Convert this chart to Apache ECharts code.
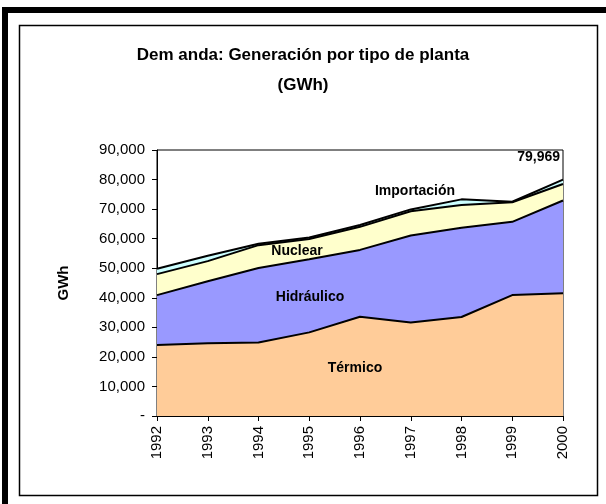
<!DOCTYPE html>
<html>
<head>
<meta charset="utf-8">
<script src="https://cdn.jsdelivr.net/npm/echarts@6/dist/echarts.min.js"></script>
<style>
  html, body { margin: 0; padding: 0; background: #fff; }
  #chart { width: 606px; height: 504px; }
</style>
</head>
<body>
<div id="chart"></div>
<script>
const years = ['1992', '1993', '1994', '1995', '1996', '1997', '1998', '1999', '2000'];
const termico = [24000, 24600, 24900, 28300, 33600, 31600, 33500, 40900, 41500];
const hidraulico = [16900, 21000, 25200, 24700, 22600, 29500, 30200, 24800, 31400];
const nuclear = [7100, 6800, 7700, 6900, 7800, 8200, 7700, 6600, 5600];
const importacion = [1800, 1800, 500, 500, 600, 600, 1900, 200, 1469];
const yTicks = [0, 10000, 20000, 30000, 40000, 50000, 60000, 70000, 80000, 90000];

const font = '"Liberation Sans", Arial, sans-serif';

const chart = echarts.init(document.getElementById('chart'));

const areaSeries = (name, data, color) => ({
  name,
  type: 'line',
  stack: 'total',
  data,
  symbol: 'none',
  lineStyle: { color: '#000', width: 2 },
  areaStyle: { color, opacity: 1 }
});

const label = (text, x, y, align) => ({
  type: 'text', z: 100, x, y,
  style: { text, font: 'bold 14px ' + font, fill: '#000', align: align || 'center', verticalAlign: 'middle' }
});

chart.setOption({
  backgroundColor: '#fff',
  animation: false,
  textStyle: { fontFamily: font },
  title: {
    text: 'Dem anda: Generación por tipo de planta\n(GWh)',
    left: 'center',
    top: 35,
    textStyle: { fontSize: 17, fontWeight: 'bold', color: '#000', lineHeight: 30, fontFamily: font }
  },
  grid: {
    left: 157, right: 43, top: 150, bottom: 88,
    show: true, borderColor: '#000', borderWidth: 1, backgroundColor: 'transparent'
  },
  xAxis: {
    type: 'category',
    data: years,
    boundaryGap: false,
    axisLine: { lineStyle: { color: '#000', width: 1 } },
    axisTick: { show: true, length: 5, lineStyle: { color: '#000' } },
    axisLabel: { rotate: 90, margin: 10, fontSize: 15, color: '#000', fontFamily: font }
  },
  yAxis: {
    type: 'value',
    min: 0, max: 90000, interval: 10000,
    name: 'GWh',
    nameLocation: 'middle',
    nameGap: 86,
    nameTextStyle: { fontSize: 15, fontWeight: 'bold', color: '#000', fontFamily: font },
    axisLine: { show: true, lineStyle: { color: '#000', width: 1 } },
    axisTick: { show: true, length: 5, lineStyle: { color: '#000' } },
    splitLine: { show: false },
    axisLabel: {
      margin: 12, fontSize: 15, color: '#000', fontFamily: font,
      formatter: v => yTicks.indexOf(v) === 0 ? '-' : v.toLocaleString('en-US')
    }
  },
  series: [
    areaSeries('Térmico', termico, '#FFCC99'),
    areaSeries('Hidráulico', hidraulico, '#9999FF'),
    areaSeries('Nuclear', nuclear, '#FFFFCC'),
    areaSeries('Importación', importacion, '#CCFFFF')
  ],
  graphic: [
    { type: 'rect', z: -10, shape: { x: 5, y: 10, width: 610, height: 500 }, style: { fill: 'none', stroke: '#000', lineWidth: 6 } },
    { type: 'rect', z: -10, shape: { x: 19.5, y: 25.5, width: 578, height: 470 }, style: { fill: 'none', stroke: '#000', lineWidth: 1.5 } },
    label('79,969', 560, 157, 'right'),
    label('Importación', 415, 191),
    label('Nuclear', 297, 251),
    label('Hidráulico', 310, 297),
    label('Térmico', 355, 368)
  ]
});
</script>
</body>
</html>
